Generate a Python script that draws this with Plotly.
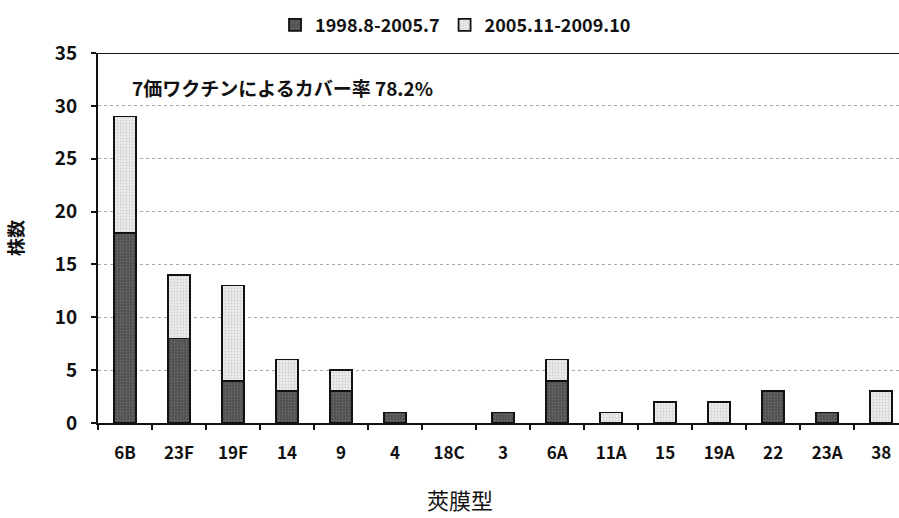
import plotly.graph_objects as go

# Serotype distribution of isolates, two collection periods
serotypes = ["6B", "23F", "19F", "14", "9", "4", "18C", "3", "6A", "11A", "15", "19A", "22", "23A", "38"]
period1 = [18, 8, 4, 3, 3, 1, 0, 1, 4, 0, 0, 0, 3, 1, 0]
period2 = [11, 6, 9, 3, 2, 0, 0, 0, 2, 1, 2, 2, 0, 0, 3]
period1_name = "1998.8-2005.7"
period2_name = "2005.11-2009.10"
y_ticks = [0, 5, 10, 15, 20, 25, 30, 35]

FONT = "Noto Sans CJK JP"


def nonzero(values):
    # empty segments are left out so no outline is drawn for them
    return [v if v else None for v in values]


fig = go.Figure()
fig.add_trace(go.Bar(
    x=serotypes, y=nonzero(period1), name=period1_name,
    marker=dict(color="#575757", line=dict(color="#111111", width=1.8),
                pattern=dict(shape=".", fgcolor="#8a8a8a", bgcolor="#4e4e4e",
                             size=3, solidity=0.3)),
))
fig.add_trace(go.Bar(
    x=serotypes, y=nonzero(period2), name=period2_name,
    marker=dict(color="#e4e4e4", line=dict(color="#111111", width=1.8),
                pattern=dict(shape=".", fgcolor="#b0b0b0", bgcolor="#ececec",
                             size=3, solidity=0.3)),
))

fig.update_layout(
    width=899, height=518,
    margin=dict(l=98, r=0, t=53, b=95),
    barmode="stack",
    bargap=0.59,
    plot_bgcolor="white",
    paper_bgcolor="white",
    font=dict(family=FONT, color="#111111"),
    legend=dict(orientation="h", x=0.221, xanchor="left", y=1.075, yanchor="middle",
                font=dict(family=FONT, size=18, weight="bold"),
                itemwidth=30, traceorder="normal"),
    showlegend=True,
)

fig.update_xaxes(
    type="category",
    range=[-0.5, 14.33],
    showline=True, linecolor="#111111", linewidth=2,
    ticks="outside", tickson="boundaries", ticklen=5, tickwidth=2, tickcolor="#111111",
    tickfont=dict(family=FONT, size=17, weight="bold"),
    ticklabelstandoff=14,
    showgrid=False,
)

fig.update_yaxes(
    range=[0, 35],
    tickvals=y_ticks,
    showline=True, linecolor="#111111", linewidth=2,
    ticks="outside", ticklen=5, tickwidth=2, tickcolor="#111111",
    tickfont=dict(family=FONT, size=19, weight="bold"),
    ticklabelstandoff=10,
    showgrid=True, gridcolor="#a8a8a8", gridwidth=1, griddash="dot",
    zeroline=False,
    title=dict(text="株数", font=dict(family=FONT, size=18, weight="bold"), standoff=26),
)

# solid frame line across the top of the plot
fig.add_shape(type="line", xref="paper", yref="y", x0=0, x1=1, y0=35, y1=35,
              line=dict(color="#111111", width=2))

# x-axis title
fig.add_annotation(
    text="莢膜型", xref="paper", yref="paper", x=0.452, y=-0.205,
    xanchor="center", yanchor="middle", showarrow=False,
    font=dict(family=FONT, size=22),
)

fig.add_annotation(
    text="7価ワクチンによるカバー率 78.2%",
    xref="paper", yref="y", x=0.04, y=31.7, xanchor="left", yanchor="middle",
    showarrow=False, font=dict(family=FONT, size=19, weight="bold"),
)

fig.write_html("out.html")
